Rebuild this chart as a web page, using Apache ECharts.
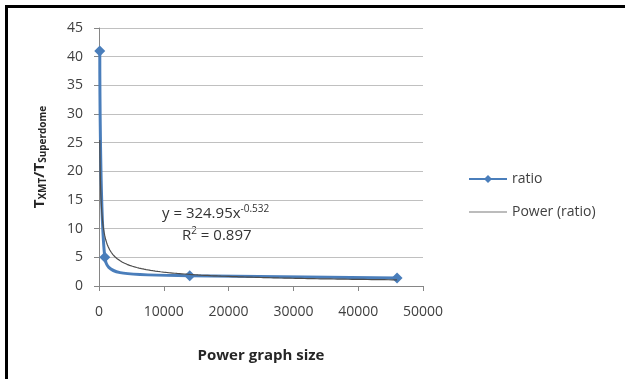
<!DOCTYPE html>
<html>
<head>
<meta charset="utf-8">
<script src="https://cdn.jsdelivr.net/npm/echarts@6/dist/echarts.min.js"></script>
<style>
html, body { margin: 0; padding: 0; background: #fff; }
#chart1 { width: 625px; height: 379px; }
</style>
</head>
<body>
<div id="chart1"></div>
<script>
// graph sizes and measured ratios
var graphSize = [120, 900, 14000, 46000];
var ratio = [41, 5, 1.8, 1.4];
// power trendline y = a * x^b, as printed on the chart
var trendCoef = [324.95, -0.532];
var trendText = ['y = 324.95x', '-0.532', 'R', '2', ' = 0.897'];
var xTicks = [0, 10000, 20000, 30000, 40000, 50000];

var myChart = echarts.init(document.getElementById("chart1"));

function makeTrend() {
	var d = [];
	var x0 = graphSize[0], x1 = graphSize[graphSize.length - 1];
	var n = 400;
	for (var i = 0; i <= n; i++) {
		// log spacing, the curve bends hard near the start
		var x = x0 * Math.pow(x1 / x0, i / n);
		d.push([x, trendCoef[0] * Math.pow(x, trendCoef[1])]);
	}
	return d;
}

var font = '"Open Sans", Lato, sans-serif';

var option = {
	animation: false,
	backgroundColor: '#ffffff',
	textStyle: { fontFamily: font },
	grid: { left: 99, right: 202, top: 28, bottom: 93 },
	legend: {
		orient: 'vertical',
		left: 463,
		top: 167,
		itemGap: 19,
		itemWidth: 38,
		itemHeight: 10,
		textStyle: { fontSize: 14, color: '#404040', fontFamily: font },
		data: [
			{ name: 'ratio' },
			{ name: 'Power (ratio)', icon: 'path://M0,0h40v1.6h-40z', itemStyle: { color: '#a6a6a6' } }
		]
	},
	xAxis: {
		type: 'value',
		min: xTicks[0],
		max: xTicks[xTicks.length - 1],
		interval: 10000,
		name: 'Power graph size',
		nameLocation: 'middle',
		nameGap: 62,
		nameTextStyle: { fontSize: 15, fontWeight: 'bold', color: '#262626', fontFamily: font },
		axisLine: { lineStyle: { color: '#868686' } },
		axisTick: { show: true, length: 5, lineStyle: { color: '#868686' } },
		axisLabel: {
			fontSize: 14, color: '#404040', margin: 19, fontFamily: font,
			formatter: function (v) { return String(v); }
		},
		splitLine: { show: false }
	},
	yAxis: {
		type: 'value',
		min: 0,
		max: 45,
		interval: 5,
		name: 'T{sub|XMT}/T{sub|Superdome}',
		nameLocation: 'middle',
		nameGap: 51,
		nameRotate: 90,
		nameTextStyle: {
			fontSize: 15, fontWeight: 'bold', color: '#262626', fontFamily: font,
			rich: {
				sub: { fontSize: 10, fontWeight: 'bold', color: '#262626', padding: [7, 0, 0, 0], fontFamily: font }
			}
		},
		axisLine: { show: true, lineStyle: { color: '#868686' } },
		axisTick: { show: true, length: 5, lineStyle: { color: '#868686' } },
		axisLabel: { fontSize: 14, color: '#404040', margin: 16, fontFamily: font },
		splitLine: { show: true, lineStyle: { color: '#c0c0c0' } }
	},
	series: [{
		name: 'ratio',
		type: 'line',
		smooth: 0.8,
		symbol: 'diamond',
		symbolSize: 11,
		color: '#4a7ebb',
		lineStyle: { width: 3, color: '#4a7ebb' },
		itemStyle: { color: '#4a7ebb' },
		data: graphSize.map(function (x, i) { return [x, ratio[i]]; }),
		z: 2
	}, {
		name: 'Power (ratio)',
		type: 'line',
		showSymbol: false,
		symbol: 'none',
		color: '#a6a6a6',
		lineStyle: { width: 1.2, color: '#4d4d4d' },
		data: makeTrend(),
		z: 3
	}],
	graphic: [{
		type: 'text',
		left: 162,
		top: 204,
		style: {
			text: trendText[0] + '{sup|' + trendText[1] + '}',
			fontSize: 15, fill: '#333333', fontFamily: font,
			rich: { sup: { fontSize: 10, fill: '#333333', padding: [0, 0, 9, 0], fontFamily: font } }
		}
	}, {
		type: 'text',
		left: 182,
		top: 226,
		style: {
			text: trendText[2] + '{sup|' + trendText[3] + '}' + trendText[4],
			fontSize: 15, fill: '#333333', fontFamily: font,
			rich: { sup: { fontSize: 10, fill: '#333333', padding: [0, 0, 9, 0], fontFamily: font } }
		}
	}, {
		type: 'line',
		shape: { x1: 6.5, y1: 5, x2: 6.5, y2: 379 },
		style: { stroke: '#000', lineWidth: 3 }
	}, {
		type: 'line',
		shape: { x1: 5, y1: 6.5, x2: 625, y2: 6.5 },
		style: { stroke: '#000', lineWidth: 3 }
	}]
};
myChart.setOption(option);
</script>
</body>
</html>
